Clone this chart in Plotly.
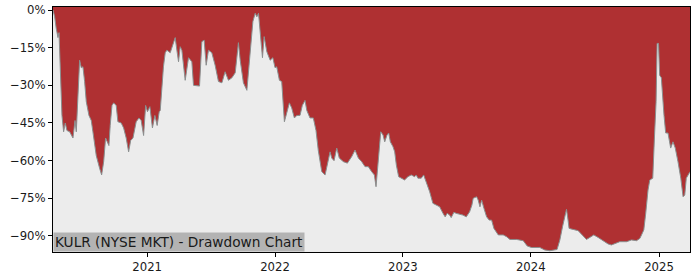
import pandas as pd
import plotly.graph_objects as go

# Time as decimal years, drawdown in percent
years = [2020.266, 2020.279, 2020.291, 2020.301, 2020.305, 2020.313, 2020.323, 2020.336, 2020.349, 2020.362,
         2020.375, 2020.396, 2020.422, 2020.438, 2020.448, 2020.461, 2020.474, 2020.487, 2020.500, 2020.513,
         2020.526, 2020.547, 2020.565, 2020.578, 2020.604, 2020.630, 2020.646, 2020.662, 2020.677, 2020.690,
         2020.703, 2020.713, 2020.727, 2020.740, 2020.760, 2020.773, 2020.799, 2020.818, 2020.838, 2020.857,
         2020.873, 2020.891, 2020.916, 2020.938, 2020.955, 2020.974, 2020.990, 2021.002, 2021.021, 2021.041,
         2021.060, 2021.078, 2021.094, 2021.102, 2021.113, 2021.127, 2021.141, 2021.154, 2021.180, 2021.205,
         2021.219, 2021.232, 2021.245, 2021.258, 2021.271, 2021.297, 2021.323, 2021.349, 2021.362, 2021.409,
         2021.427, 2021.445, 2021.461, 2021.479, 2021.505, 2021.531, 2021.557, 2021.584, 2021.609, 2021.635,
         2021.662, 2021.688, 2021.713, 2021.727, 2021.752, 2021.779, 2021.805, 2021.826, 2021.844, 2021.857,
         2021.870, 2021.883, 2021.901, 2021.914, 2021.935, 2021.961, 2021.982, 2022.000, 2022.013, 2022.034,
         2022.052, 2022.073, 2022.091, 2022.112, 2022.130, 2022.151, 2022.170, 2022.195, 2022.213, 2022.234,
         2022.248, 2022.273, 2022.299, 2022.320, 2022.338, 2022.352, 2022.365, 2022.391, 2022.409, 2022.430,
         2022.443, 2022.461, 2022.482, 2022.502, 2022.534, 2022.565, 2022.599, 2022.625, 2022.651, 2022.677,
         2022.703, 2022.729, 2022.755, 2022.776, 2022.789, 2022.799, 2022.810, 2022.826, 2022.844, 2022.857,
         2022.875, 2022.888, 2022.901, 2022.922, 2022.935, 2022.948, 2022.966, 2022.987, 2023.013, 2023.039,
         2023.065, 2023.091, 2023.104, 2023.117, 2023.143, 2023.162, 2023.182, 2023.209, 2023.234, 2023.260,
         2023.287, 2023.313, 2023.330, 2023.346, 2023.365, 2023.377, 2023.398, 2023.416, 2023.443, 2023.469,
         2023.495, 2023.521, 2023.539, 2023.549, 2023.576, 2023.588, 2023.602, 2023.615, 2023.633, 2023.654,
         2023.674, 2023.693, 2023.711, 2023.745, 2023.784, 2023.810, 2023.836, 2023.888, 2023.940, 2023.971,
         2024.005, 2024.070, 2024.109, 2024.148, 2024.205, 2024.227, 2024.248, 2024.266, 2024.279, 2024.291,
         2024.299, 2024.330, 2024.370, 2024.409, 2024.435, 2024.461, 2024.492, 2024.526, 2024.565, 2024.604,
         2024.630, 2024.656, 2024.695, 2024.748, 2024.787, 2024.826, 2024.852, 2024.865, 2024.883, 2024.898,
         2024.916, 2024.930, 2024.953, 2024.966, 2024.979, 2024.987, 2024.998, 2025.005, 2025.018, 2025.039,
         2025.052, 2025.070, 2025.091, 2025.109, 2025.127, 2025.148, 2025.170, 2025.188, 2025.201, 2025.213,
         2025.227, 2025.242]

drawdown = [0, -2.7, -7.3, -10, -11, -9, -24.6, -42, -48.5, -45,
            -48, -48.5, -51, -44, -48.5, -36.5, -20, -23, -22.6, -28.5,
            -36.5, -42, -44, -48.5, -58, -63, -65.7, -60.4, -51, -52.5,
            -54, -46, -38, -37, -38, -44.5, -45, -47, -51, -56.5,
            -52, -51, -44.5, -43, -44, -50, -38, -40.5, -38.5, -47,
            -42, -46, -40.5, -40, -30, -22.6, -17, -16, -17, -12.6,
            -11, -16, -20.6, -14.6, -16, -28, -19, -20.6, -30, -30.3,
            -12.6, -12, -22, -16, -17, -22, -28.5, -29, -24.6, -28,
            -27, -25, -13, -20, -29, -32, -16, -4.6, -1.3, -2.7,
            -1.3, -9.3, -19, -10.6, -16.6, -20, -19, -23, -22.6, -28,
            -28.5, -44.5, -41, -37, -39, -43, -42, -42, -38, -36,
            -40, -43, -43, -48, -56, -60, -64.4, -65.7, -61, -56.5,
            -59, -60, -55, -59, -60.4, -61, -58.4, -55.8, -59, -60.4,
            -62.4, -62.4, -64.4, -65.7, -70.4, -63.7, -56.5, -48.5, -49.8, -52.5,
            -49.8, -49, -52.5, -54.5, -56.5, -61.8, -66.4, -67, -67.7, -66.4,
            -65.7, -66.4, -65.7, -67, -67, -65.7, -68.4, -72.4, -77, -77.7,
            -78.4, -81, -82.4, -81, -81.7, -82.7, -80.6, -81, -81.4, -81.7,
            -82.4, -80.4, -77.7, -75, -74.4, -75.7, -78.4, -75.7, -79, -82.4,
            -83.7, -83.7, -87, -89.6, -89.6, -90.3, -91.4, -91.4, -91.9, -94,
            -94.6, -94.6, -95.6, -95.9, -95.4, -91.6, -86.3, -82.4, -79.4, -83.7,
            -87, -87.4, -87.9, -90, -91.4, -90.6, -89.6, -90.6, -91.9, -93.2,
            -93.6, -93, -92.3, -92.3, -91.6, -91.9, -91, -89.6, -87.6, -81,
            -71.7, -67.7, -67, -51, -36.5, -13.3, -13.3, -26, -27, -42,
            -49, -49, -55, -52.5, -55, -60.4, -67, -74.4, -73.7, -67,
            -65.7, -64.4]

tick_years = [2021, 2022, 2023, 2024, 2025]
y_tick_vals = [0, -15, -30, -45, -60, -75, -90]
y_tick_text = ["0%", "\u221215%", "\u221230%", "\u221245%", "\u221260%", "\u221275%", "\u221290%"]
title_text = "KULR (NYSE MKT) - Drawdown Chart"

Y_MIN, Y_MAX = -96.4, 1.2


def to_date(y):
    base = int(y)
    return pd.Timestamp(f"{base}-01-01") + pd.Timedelta(days=(y - base) * 365.25)


dates = [to_date(v) for v in years]

fig = go.Figure()
fig.add_trace(go.Scatter(x=dates, y=[Y_MIN] * len(dates), mode="lines",
                         line=dict(width=0, color="#ececec"), hoverinfo="skip",
                         showlegend=False))
fig.add_trace(go.Scatter(x=dates, y=drawdown, mode="lines", fill="tonexty",
                         fillcolor="#ececec", line=dict(color="#8a8f8f", width=1),
                         showlegend=False))

fig.update_layout(
    width=700, height=280,
    margin=dict(l=53, r=10, t=7, b=28, pad=0, autoexpand=False),
    paper_bgcolor="white",
    plot_bgcolor="#af3032",
    font=dict(family="DejaVu Sans", size=11.7, color="#1a1a1a"),
    showlegend=False,
)
fig.update_xaxes(
    type="date", automargin=False,
    range=[dates[0], dates[-1]],
    tickvals=[pd.Timestamp(f"{y}-01-01") for y in tick_years],
    ticktext=[str(y) for y in tick_years],
    ticks="outside", ticklen=4, tickcolor="black", tickwidth=1,
    showline=True, linecolor="black", linewidth=1, mirror=True,
    showgrid=False, zeroline=False,
)
fig.update_yaxes(
    automargin=False,
    range=[Y_MIN, Y_MAX],
    tickvals=y_tick_vals, ticktext=y_tick_text,
    ticks="outside", ticklen=4, tickcolor="black", tickwidth=1,
    showline=True, linecolor="black", linewidth=1, mirror=True,
    showgrid=False, zeroline=False,
)
fig.add_annotation(
    text=title_text, xref="paper", yref="paper", x=0, y=0,
    xanchor="left", yanchor="bottom", showarrow=False,
    font=dict(family="DejaVu Sans", size=13.7, color="#1a1a1a"),
    bgcolor="#b3b3b3", borderpad=1,
)

fig.write_html("out.html")
